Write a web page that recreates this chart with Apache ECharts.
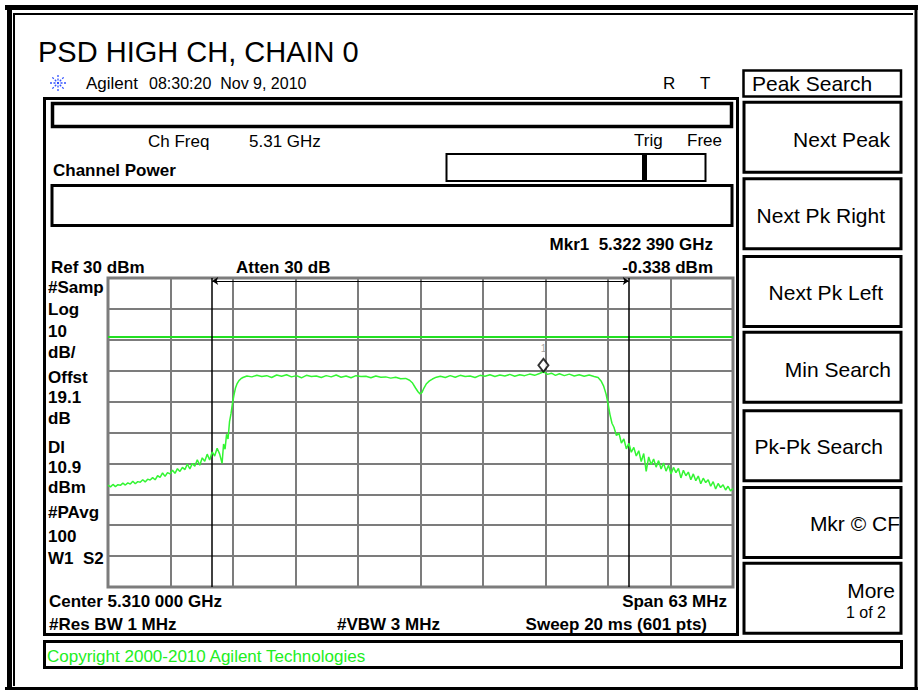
<!DOCTYPE html>
<html><head><meta charset="utf-8">
<script src="https://cdn.jsdelivr.net/npm/echarts@6/dist/echarts.min.js"></script>
<style>html,body{margin:0;padding:0;background:#fff}#c{width:923px;height:692px}</style>
</head><body><div id="c"></div>
<script>
// ---------------- DATA ----------------
const titleText = 'PSD HIGH CH, CHAIN 0';
const headerBrand = 'Agilent';
const headerDate = '08:30:20  Nov 9, 2010';
const centerGHz = 5.310;          // center frequency
const spanMHz = 63;               // span
const refLevelDbm = 30;           // reference level
const dbPerDiv = 10;
const displayLineDbm = 10.9;      // DL
const channelEdgesMHz = [-21.0, 21.0];   // integration bandwidth bars (offset from center)
const markerFreqMHz = 12.39;      // Mkr1 5.322 390 GHz
const markerDbm = -0.338;

// trace: frequency offset from center (MHz) and level (dBm)
const freqOffsetMHz = [
  -31.5,-31.25,-31,-30.75,-30.5,-30.25,-30,-29.75,-29.5,-29.25,
  -29,-28.75,-28.5,-28.25,-28,-27.75,-27.5,-27.25,-27,-26.75,
  -26.5,-26.25,-26,-25.75,-25.5,-25.25,-25,-24.75,-24.5,-24.25,
  -24,-23.75,-23.5,-23.25,-23,-22.75,-22.5,-22.25,-22,-21.75,
  -21.5,-21.25,-21,-20.75,-20.5,-20.25,-20,-19.85,-19.7,-19.55,
  -19.4,-19.25,-19.1,-18.95,-18.8,-18.65,-18.5,-18.3,-18.1,-17.9,
  -17.5,-17,-16.5,-16,-15.5,-15,-14.5,-14,-13.5,-13,
  -12.5,-12,-11.5,-11,-10.5,-10,-9.5,-9,-8.5,-8,
  -7.5,-7,-6.5,-6,-5.5,-5,-4.5,-4,-3.5,-3,
  -2.5,-2,-1.5,-1.1,-0.8,-0.5,-0.25,-0.05,0.15,0.35,
  0.6,0.9,1.2,1.6,2,2.5,3,3.5,4,4.5,
  5,5.5,6,6.5,7,7.5,8,8.5,9,9.5,
  10,10.5,11,11.5,12,12.39,12.8,13.2,13.6,14,
  14.5,15,15.5,16,16.5,17,17.5,17.9,
  18.2,18.45,18.7,18.9,19.1,19.3,19.5,19.75,20,20.25,
  20.5,20.75,21,21.25,21.5,21.75,22,22.25,22.5,22.75,
  23,23.25,23.5,23.75,24,24.25,24.5,24.75,25,25.25,
  25.5,25.75,26,26.25,26.5,26.75,27,27.25,27.5,27.75,
  28,28.25,28.5,28.75,29,29.25,29.5,29.75,30,30.25,
  30.5,30.75,31,31.25,31.5
];
const levelDbm = [
  -37.0,-37.6,-36.8,-37.5,-36.9,-37.1,-36.4,-37.0,-36.3,-36.7,
  -35.8,-36.6,-35.9,-36.1,-35.3,-36.0,-35.1,-35.4,-34.6,-35.3,
  -34.0,-34.5,-33.1,-34.2,-33.0,-33.4,-32.2,-33.2,-31.7,-32.6,
  -31.3,-32.0,-30.2,-31.8,-30.0,-30.9,-28.8,-30.6,-28.2,-29.3,
  -27.0,-28.9,-26.3,-27.6,-25.1,-26.9,-30.0,-23.7,-25.4,-20.6,
  -22.1,-16.5,-13.9,-10.5,-7.8,-5.6,-4.3,-3.2,-2.6,-2.2,
  -1.7,-2.0,-1.5,-1.9,-1.6,-2.2,-1.4,-1.8,-1.3,-2.0,
  -1.6,-2.3,-1.5,-1.9,-1.7,-2.2,-1.6,-2.0,-1.4,-2.1,
  -1.7,-2.3,-1.6,-1.9,-1.8,-2.3,-1.7,-2.1,-2.0,-2.4,
  -2.1,-2.6,-2.5,-3.1,-4.0,-5.6,-6.8,-7.5,-7.0,-5.6,
  -4.2,-3.3,-2.7,-2.1,-1.8,-2.2,-1.6,-2.1,-1.5,-1.9,
  -1.7,-2.2,-1.5,-1.8,-1.3,-1.9,-1.4,-1.7,-1.2,-1.8,
  -1.3,-1.6,-1.1,-1.5,-0.9,-0.338,-1.2,-0.8,-1.5,-1.0,
  -1.6,-1.1,-1.7,-1.3,-1.8,-1.4,-1.9,-2.2,
  -3.3,-4.9,-7.5,-10.6,-14.2,-17.0,-18.3,-21.0,-20.2,-23.4,
  -22.1,-25.3,-23.5,-26.4,-24.8,-27.6,-25.9,-29.4,-26.8,-32.6,
  -27.9,-30.4,-28.6,-31.2,-29.1,-31.8,-29.9,-32.5,-30.6,-33.4,
  -31.3,-33.0,-31.6,-34.7,-32.2,-34.0,-32.8,-35.3,-33.4,-35.6,
  -34.1,-36.6,-34.8,-36.2,-35.3,-37.4,-35.9,-38.3,-36.5,-37.8,
  -36.9,-38.6,-37.4,-38.9,-38.1
];

// annotation texts
const leftLabels = ['#Samp','Log','10','dB/','Offst','19.1','dB','Dl','10.9','dBm','#PAvg','100','W1  S2'];
const softKeys = ['Next Peak','Next Pk Right','Next Pk Left','Min Search','Pk-Pk Search','Mkr \u00A9 CF','More'];
const softKeySub = '1 of 2';
const menuTitle = 'Peak Search';
const chFreqLabel = 'Ch Freq', chFreqValue = '5.31 GHz';
const trigLabel = 'Trig', trigValue = 'Free';
const measLabel = 'Channel Power';
const mkrFreqText = 'Mkr1  5.322 390 GHz';
const mkrLevelText = '-0.338 dBm';
const refText = 'Ref 30 dBm', attenText = 'Atten 30 dB';
const centerText = 'Center 5.310 000 GHz', spanText = 'Span 63 MHz';
const rbwText = '#Res BW 1 MHz', vbwText = '#VBW 3 MHz', sweepText = 'Sweep 20 ms (601 pts)';
const copyrightText = 'Copyright 2000-2010 Agilent Technologies';

// ---------------- LAYOUT ----------------
const FF = '"Liberation Sans", Arial, sans-serif';
const G = [];
function T(text, x, y, size, o) {
  o = o || {};
  G.push({type:'text', z:100, silent:true, style:{
    text:text, x:x, y:y, fill:o.fill||'#000',
    font:(o.bold?'bold ':'')+size+'px '+FF,
    align:o.align||'left', textAlign:o.align||'left',
    verticalAlign:'middle', textVerticalAlign:'middle'}});
}
function R(x, y, w, h, lw) {
  G.push({type:'rect', z:90, silent:true, shape:{x:x,y:y,width:w,height:h},
    style:{fill:'none', stroke:'#000', lineWidth:lw}});
}
function L(x1, y1, x2, y2, lw, color, dash) {
  G.push({type:'line', z:90, silent:true, shape:{x1:x1,y1:y1,x2:x2,y2:y2},
    style:{stroke:color||'#000', lineWidth:lw, lineDash:dash||null}});
}

// window frame
L(5, 7.5, 918, 7.5, 5); L(9.5, 5, 9.5, 690, 5);
L(13, 14, 913, 14, 2); L(14, 13, 14, 686, 2);
L(916, 5, 916, 690, 3); L(5, 688.5, 918, 688.5, 3);

// title & header
T(titleText, 38, 52, 29);
const lc = [58, 83];
for (let a = 0; a < 4; a++) {
  const ang = a * Math.PI / 4, r = 8;
  L(lc[0]-r*Math.cos(ang), lc[1]-r*Math.sin(ang), lc[0]+r*Math.cos(ang), lc[1]+r*Math.sin(ang), 1.3, '#3050ff', [2,1.5]);
}
T(headerBrand, 86, 83, 17);
T(headerDate, 149, 83, 16);
T('R', 663, 83, 17); T('T', 700, 83, 17);

// analyzer panel
R(44.5, 98.5, 693, 536, 3);
R(52.5, 103.5, 679, 23, 3.5);
T(chFreqLabel, 148, 141, 17); T(chFreqValue, 249, 141, 17);
T(trigLabel, 634, 140, 17); T(trigValue, 687, 140, 17);
T(measLabel, 53, 170, 17, {bold:true});
R(446.5, 154, 259, 27, 2);
L(644.5, 154, 644.5, 181, 5);
R(52, 185.5, 680, 40, 3);
T(mkrFreqText, 713, 244, 17, {bold:true, align:'right'});
T(refText, 51, 267.5, 17, {bold:true});
T(attenText, 236, 267.5, 17, {bold:true});
T(mkrLevelText, 713, 267.5, 17, {bold:true, align:'right'});
const leftY = [287.5, 309, 331, 352, 377, 397, 418, 447, 467, 487.5, 512, 536, 558];
leftLabels.forEach((s, i) => T(s, 48, leftY[i], 17, {bold:true}));
T(centerText, 49, 601, 17, {bold:true});
T(spanText, 727, 601, 17, {bold:true, align:'right'});
T(rbwText, 49, 624.5, 17, {bold:true});
T(vbwText, 337, 624.5, 17, {bold:true});
T(sweepText, 707, 624.5, 17, {bold:true, align:'right'});

// copyright bar
R(44.5, 641.5, 857, 26, 3);
T(copyrightText, 47, 656, 17, {fill:'#22ee22'});

// soft keys
R(743.5, 70.5, 157.5, 26, 2.5);
T(menuTitle, 752, 83, 21);
const keyTop = [100.7, 177.3, 255, 330.7, 409.3, 486, 561.7];
const keyRight = [890, 885, 883, 891, 883, 900, 895];
const keyY = [139, 215, 292, 369, 446, 523, 590];
softKeys.forEach((s, i) => {
  R(744, keyTop[i] + 1.5, 157, 70, 3);
  T(s, keyRight[i], keyY[i], 21, {align:'right'});
});
T(softKeySub, 886, 612, 16, {align:'right'});

// ---------------- CHART ----------------
const trace = freqOffsetMHz.map((f, i) => [f, levelDbm[i]]);
const half = spanMHz / 2, div = spanMHz / 10;
const chart = echarts.init(document.getElementById('c'), null, {renderer:'svg'});
chart.setOption({
  animation:false,
  backgroundColor:'#fff',
  grid:{left:108, top:278, width:625, height:309, show:true, borderColor:'#7c7c7c', borderWidth:3, backgroundColor:'#fff'},
  xAxis:{type:'value', min:-half, max:half, interval:div,
    axisLabel:{show:false}, axisTick:{show:false}, axisLine:{show:false},
    splitLine:{show:true, lineStyle:{color:'#7c7c7c', width:2}}},
  yAxis:{type:'value', min:refLevelDbm - 10*dbPerDiv, max:refLevelDbm, interval:dbPerDiv,
    axisLabel:{show:false}, axisTick:{show:false}, axisLine:{show:false},
    splitLine:{show:true, lineStyle:{color:'#7c7c7c', width:2}}},
  graphic:G,
  series:[
    {type:'line', data:trace, symbol:'none', z:5,
      lineStyle:{color:'#33f533', width:1.5},
      markLine:{silent:true, symbol:['none','none'], label:{show:false}, animation:false,
        data:[
          {yAxis:displayLineDbm, lineStyle:{color:'#22e022', width:2, type:'solid'}},
          {xAxis:channelEdgesMHz[0], lineStyle:{color:'#000', width:1.5, type:'solid'}},
          {xAxis:channelEdgesMHz[1], lineStyle:{color:'#000', width:1.5, type:'solid'}}
        ]}},
    {type:'line', data:[], z:6,
      markLine:{silent:true, symbol:['arrow','arrow'], symbolSize:6, label:{show:false}, animation:false,
        lineStyle:{color:'#000', width:1.2, type:'solid'},
        data:[[{coord:[channelEdgesMHz[0], refLevelDbm - 1]}, {coord:[channelEdgesMHz[1], refLevelDbm - 1]}]]}},
    {type:'scatter', z:10, data:[[markerFreqMHz, markerDbm]], symbol:'diamond', symbolSize:[10,13], symbolOffset:[0,-6.5],
      itemStyle:{color:'#fff', borderColor:'#000', borderWidth:2},
      label:{show:true, formatter:'1', position:'top', distance:4, color:'#8a8a8a', fontSize:10, fontFamily:FF}}
  ]
});
</script></body></html>
